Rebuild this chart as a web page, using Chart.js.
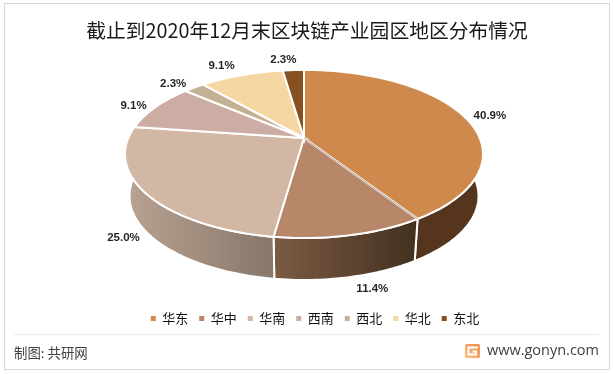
<!DOCTYPE html>
<html lang="zh">
<head>
<meta charset="utf-8">
<title>区块链产业园区地区分布</title>
<script src="https://cdn.jsdelivr.net/npm/chart.js@4"></script>
<style>
  html, body { margin: 0; padding: 0; background: #fff; }
  #wrap { position: relative; width: 614px; height: 374px; overflow: hidden; font-family: "Noto Sans CJK SC", sans-serif; }
  #frame { position: absolute; left: 4px; top: 3px; width: 604px; height: 365px; border: 1px solid #d9d9d9; }
  #rule { position: absolute; left: 14px; top: 334px; width: 585px; height: 1px; background: #ececec; }
  #source { position: absolute; left: 14px; top: 342px; font-size: 13.4px; line-height: 20px; color: #404040; }
  #site { position: absolute; right: 15px; top: 340px; font: 14.5px/20px "Open Sans", sans-serif; color: #404040; }
  #logo { position: absolute; left: 465px; top: 344px; }
  canvas { position: absolute; left: 0; top: 0; }
</style>
</head>
<body>
<div id="wrap">
  <canvas id="pie" width="614" height="374"></canvas>
  <div id="frame"></div>
  <div id="rule"></div>
  <div id="source">制图: 共研网</div>
  <svg id="logo" width="15" height="14" viewBox="0 0 15 14">
    <defs>
      <linearGradient id="logoFill" x1="1" y1="0" x2="0" y2="1">
        <stop offset="0" stop-color="#f08a4b"/>
        <stop offset="1" stop-color="#f9c184"/>
      </linearGradient>
    </defs>
    <rect width="15" height="14" rx="1.5" fill="url(#logoFill)"/>
    <path d="M13 3.5H3.5v7H11V7.5H7.5" fill="none" stroke="#fff" stroke-width="2"/>
  </svg>
  <div id="site">www.gonyn.com</div>
</div>
<script>
const regions = ["华东", "华中", "华南", "西南", "西北", "华北", "东北"];
const shares = [40.9, 11.4, 25.0, 9.1, 2.3, 9.1, 2.3];
const colors = ["#d0894c", "#b8876a", "#d3b7a5", "#cbada3", "#c4b094", "#f5d7a4", "#865021"];

// side wall gradient per slice, left to right. back slices have no wall
const wallColors = [
  ["#55351d", "#55351d"],
  ["#7c5b44", "#42301f"],
  ["#b9a392", "#87776a"],
  null, null, null, null
];

// nudges for the outside labels, measured from the rim
const labelNudge = [[26, 0], [22, 54], [-22, 45], [-22, -1], [-21, -4], [-20, -9], [-10, -10]];

// tilted disc with perspective, k is how much nearer the front edge is
const tilt = 0.19;
const topDisc = { cx: 304, cy: 138, rx: 175.7, ry: 81 };
const lowDisc = { cx: 304, cy: 180, rx: 171.3, ry: 81 };

function project(disc, angle) {
  // chart.js angles start at the right, the rotation option puts 0 at the top
  const u = Math.cos(angle);
  const v = Math.sin(angle);
  const w = 1 - tilt * v;
  return { x: disc.cx + disc.rx * u / w, y: disc.cy + disc.ry * v / w };
}

function rimPoints(disc, start, end) {
  const pts = [];
  const steps = Math.max(2, Math.ceil((end - start) / 0.02));
  for (let i = 0; i <= steps; i++) {
    pts.push(project(disc, start + (end - start) * i / steps));
  }
  return pts;
}

function tracePath(ctx, pts) {
  ctx.beginPath();
  pts.forEach((p, i) => i ? ctx.lineTo(p.x, p.y) : ctx.moveTo(p.x, p.y));
  ctx.closePath();
}

const tiltedPie = {
  id: "tiltedPie",
  afterLayout(chart) {
    // legend sits a bit right of the title in the original
    chart.legend.left += 8;
    chart.legend.right += 8;
  },
  beforeDatasetsDraw(chart) {
    const ctx = chart.ctx;
    const arcs = chart.getDatasetMeta(0).data;

    // walls first, the top faces paint over what sits behind them
    arcs.forEach((arc, i) => {
      if (!wallColors[i]) return;
      const top = rimPoints(topDisc, arc.startAngle, arc.endAngle);
      const low = rimPoints(lowDisc, arc.startAngle, arc.endAngle).reverse();
      const pts = top.concat(low);
      const xs = pts.map(p => p.x);
      const fill = ctx.createLinearGradient(Math.min(...xs), 0, Math.max(...xs), 0);
      fill.addColorStop(0, wallColors[i][0]);
      fill.addColorStop(1, wallColors[i][1]);
      tracePath(ctx, pts);
      ctx.fillStyle = fill;
      ctx.fill();
      ctx.strokeStyle = "#fff";
      ctx.lineWidth = 2;
      ctx.stroke();
    });

    arcs.forEach((arc, i) => {
      const pts = [{ x: topDisc.cx, y: topDisc.cy }].concat(rimPoints(topDisc, arc.startAngle, arc.endAngle));
      tracePath(ctx, pts);
      ctx.fillStyle = colors[i];
      ctx.fill();
      ctx.strokeStyle = "#fff";
      ctx.lineWidth = 2;
      ctx.stroke();
    });

    // the first slice is pulled off a hair, shows as a thin dark seam
    const seam = project(topDisc, arcs[1].startAngle);
    ctx.beginPath();
    ctx.moveTo(topDisc.cx, topDisc.cy);
    ctx.lineTo(seam.x, seam.y);
    ctx.strokeStyle = "#8a7464";
    ctx.lineWidth = 0.7;
    ctx.stroke();

    ctx.font = "bold 11.5px 'Liberation Sans', sans-serif";
    ctx.fillStyle = "#262626";
    ctx.textAlign = "center";
    ctx.textBaseline = "middle";
    arcs.forEach((arc, i) => {
      const rim = project(topDisc, (arc.startAngle + arc.endAngle) / 2);
      ctx.fillText(shares[i].toFixed(1) + "%", rim.x + labelNudge[i][0], rim.y + labelNudge[i][1]);
    });

    return false; // skip the flat arcs
  }
};

new Chart(document.getElementById("pie"), {
  type: "pie",
  data: {
    labels: regions,
    datasets: [{ data: shares, backgroundColor: colors, borderWidth: 0 }]
  },
  options: {
    responsive: false,
    animation: false,
    layout: { padding: { top: 13, bottom: 39 } },
    plugins: {
      title: {
        display: true,
        text: "截止到2020年12月末区块链产业园区地区分布情况",
        color: "#1a1a1a",
        font: { family: "'Noto Sans CJK SC'", size: 19.8, weight: "normal" },
        padding: { top: 6, bottom: 0 }
      },
      legend: {
        position: "bottom",
        labels: {
          boxWidth: 5,
          boxHeight: 5,
          padding: 11,
          color: "#111",
          font: { family: "'Noto Sans CJK SC'", size: 13 }
        }
      },
      tooltip: { enabled: false }
    }
  },
  plugins: [tiltedPie]
});
</script>
</body>
</html>
